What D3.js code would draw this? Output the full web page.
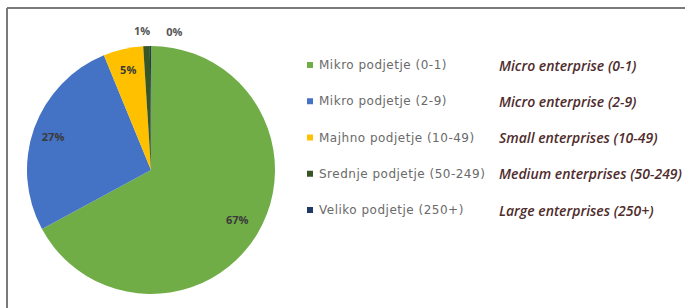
<!DOCTYPE html>
<html>
<head>
<meta charset="utf-8">
<script src="https://cdn.jsdelivr.net/npm/d3@7"></script>
<style>
  body { margin: 0; background: #fff; }
  svg { display: block; }
</style>
</head>
<body>
<svg id="chart"></svg>
<script>
// DATA
const categories = ["Mikro podjetje (0-1)", "Mikro podjetje (2-9)", "Majhno podjetje (10-49)", "Srednje podjetje (50-249)", "Veliko podjetje (250+)"];
const translations = ["Micro enterprise (0-1)", "Micro enterprise (2-9)", "Small enterprises (10-49)", "Medium enterprises (50-249)", "Large enterprises (250+)"];
const values = [67.1, 26.7, 5.2, 0.85, 0.15];
const labels = ["67%", "27%", "5%", "1%", "0%"];
const colors = ["#70ad47", "#4472c4", "#ffc000", "#375623", "#203864"];

const W = 685, H = 308;
const svg = d3.select('#chart').attr('width', W).attr('height', H);

// frame
svg.append('line').attr('x1', 7).attr('x2', W).attr('y1', 8).attr('y2', 8)
   .attr('stroke', '#7a7a7a').attr('stroke-width', 2);
svg.append('line').attr('x1', 7).attr('x2', 7).attr('y1', 8).attr('y2', H)
   .attr('stroke', '#7a7a7a').attr('stroke-width', 2);

// PIE
const cx = 151, cy = 170, r = 124;
const pie = d3.pie().sort(null).value(d => d);
const arcs = pie(values);
const arc = d3.arc().innerRadius(0).outerRadius(r);

let pieGroup = svg.append('g').attr('transform', `translate(${cx}, ${cy})`);
    pieGroup.selectAll('path')
        .data(arcs)
        .enter()
      .append('path')
        .attr('d', arc)
        .attr('fill', (d, i) => colors[i]);

// data labels: inside for big slices, outside for the thin ones
const ring = k => d3.arc().innerRadius(r * k).outerRadius(r * k);
const outer = ring(1.11);
const labelPos = (d, i) => {
  if (i === 0) return ring(0.81).centroid(d);
  if (i === 2) return ring(0.82).centroid(d);
  if (i === 3) return [outer.centroid(d)[0] - 4, outer.centroid(d)[1]];
  if (i === 4) return [outer.centroid(d)[0] + 24, outer.centroid(d)[1] + 1];
  if (i === 1) return [-r * 0.79, -r * 0.26];
  return ring(0.72).centroid(d);
};
    pieGroup.selectAll('text')
        .data(arcs)
        .enter()
      .append('text')
        .attr('x', (d, i) => labelPos(d, i)[0])
        .attr('y', (d, i) => labelPos(d, i)[1])
        .attr('text-anchor', 'middle')
        .attr('dominant-baseline', 'middle')
        .attr('font-family', 'Open Sans, sans-serif')
        .attr('font-size', 11)
        .attr('font-weight', 'bold')
        .attr('fill', (d, i) => i >= 3 ? '#555' : '#3a3a3a')
        .text((d, i) => labels[i]);

// LEGEND
const y = d3.scalePoint().domain(categories).range([65, 210]);
let legend = svg.append('g');
    legend.selectAll('rect')
        .data(categories)
        .enter()
      .append('rect')
        .attr('x', 307)
        .attr('y', d => y(d) - 3)
        .attr('width', 6)
        .attr('height', 6)
        .attr('fill', (d, i) => colors[i]);
    legend.selectAll('text.sl')
        .data(categories)
        .enter()
      .append('text')
        .attr('class', 'sl')
        .attr('x', 319)
        .attr('y', d => y(d))
        .attr('dominant-baseline', 'central')
        .attr('font-family', 'DejaVu Sans, sans-serif')
        .attr('font-size', 12)
        .attr('letter-spacing', 0.5)
        .attr('fill', '#6a6a6a')
        .text(d => d);
    legend.selectAll('text.en')
        .data(translations)
        .enter()
      .append('text')
        .attr('class', 'en')
        .attr('x', 499)
        .attr('y', (d, i) => y(categories[i]))
        .attr('dominant-baseline', 'central')
        .attr('font-family', 'Open Sans, sans-serif')
        .attr('font-size', 14)
        .attr('font-style', 'italic')
        .attr('font-weight', 600)
        .attr('fill', '#4f2c2c')
        .text(d => d);
</script>
</body>
</html>
